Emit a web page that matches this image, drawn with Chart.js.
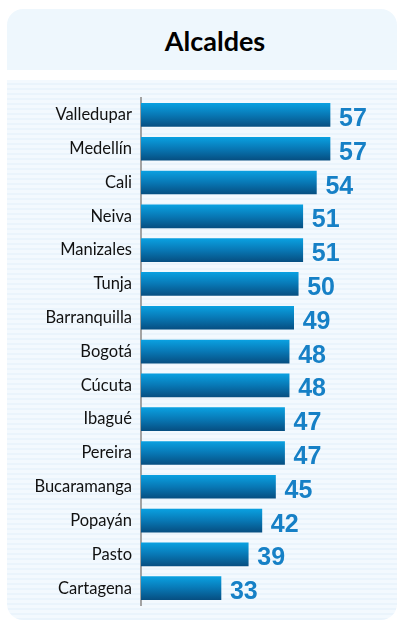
<!DOCTYPE html>
<html>
<head>
<meta charset="utf-8">
<script src="https://cdn.jsdelivr.net/npm/chart.js@4"></script>
<style>
  html, body { margin: 0; padding: 0; background: #fff; }
  #wrap { position: relative; width: 400px; height: 624px; overflow: hidden; }
  .panel-top {
    position: absolute; left: 7px; top: 9px; width: 390px; height: 61px;
    background: #eef7fd; border-radius: 16px 16px 0 0;
  }
  .panel-body {
    position: absolute; left: 7px; top: 80px; width: 390px; height: 540px;
    border-radius: 0 0 16px 16px;
    background: repeating-linear-gradient(#f3f9fe 0px, #f3f9fe 3px, #eaf4fc 3px, #eaf4fc 5px);
  }
  .title {
    position: absolute; left: 0; top: 27px; width: 430px; text-align: center;
    font-family: Lato, sans-serif; font-weight: bold; font-size: 27px; line-height: 27px; color: #000;
  }
  canvas { position: absolute; left: 0; top: 0; }
</style>
</head>
<body>
<div id="wrap">
  <div class="panel-top"></div>
  <div class="panel-body"></div>
  <div class="title">Alcaldes</div>
  <canvas id="myChart" width="400" height="624"></canvas>
</div>
<script>
const cities = ['Valledupar', 'Medellín', 'Cali', 'Neiva', 'Manizales', 'Tunja', 'Barranquilla',
    'Bogotá', 'Cúcuta', 'Ibagué', 'Pereira', 'Bucaramanga', 'Popayán', 'Pasto', 'Cartagena'];
const scores = [57, 57, 54, 51, 51, 50, 49, 48, 48, 47, 47, 45, 42, 39, 33];

const barH = 23;

// vertical gradient for each bar
function barGradient(context) {
    const chart = context.chart;
    const y = chart.scales.y;
    if (!chart.chartArea || !y) return '#0a7cbf';
    const cy = y.getPixelForValue(context.dataIndex);
    const g = chart.ctx.createLinearGradient(0, cy - barH / 2, 0, cy + barH / 2);
    g.addColorStop(0, '#0aa0e0');
    g.addColorStop(0.5, '#0878b5');
    g.addColorStop(1, '#064f82');
    return g;
}

const valueLabels = {
    id: 'valueLabels',
    afterDatasetsDraw(chart) {
        const ctx = chart.ctx;
        const meta = chart.getDatasetMeta(0);
        ctx.save();
        ctx.font = 'bold 25px "Liberation Sans", Arial, sans-serif';
        ctx.fillStyle = '#1680c6';
        ctx.textAlign = 'left';
        ctx.textBaseline = 'alphabetic';
        meta.data.forEach((bar, i) => {
            ctx.fillText(String(scores[i]), bar.x + 9, bar.y + 11);
        });
        ctx.restore();
    }
};

const ctx = document.getElementById('myChart').getContext('2d');
const myChart = new Chart(ctx, {
    type: 'bar',
    data: {
        labels: cities,
        datasets: [{
            data: scores,
            backgroundColor: barGradient,
            barThickness: barH,
            borderWidth: 0
        }]
    },
    options: {
        indexAxis: 'y',
        responsive: false,
        animation: false,
        layout: { padding: { top: 98, bottom: 16, right: 10, left: 0 } },
        plugins: {
            legend: { display: false },
            tooltip: { enabled: false }
        },
        scales: {
            x: {
                display: false,
                min: 15.4,
                max: 70.2
            },
            y: {
                afterFit: (scale) => { scale.width = 141; },
                grid: { display: false, drawTicks: false },
                border: { display: true, color: '#a3a3a3', width: 2 },
                ticks: {
                    padding: 9,
                    color: '#111',
                    font: { family: 'Lato', size: 16.5 }
                }
            }
        }
    },
    plugins: [valueLabels]
});
</script>
</body>
</html>
